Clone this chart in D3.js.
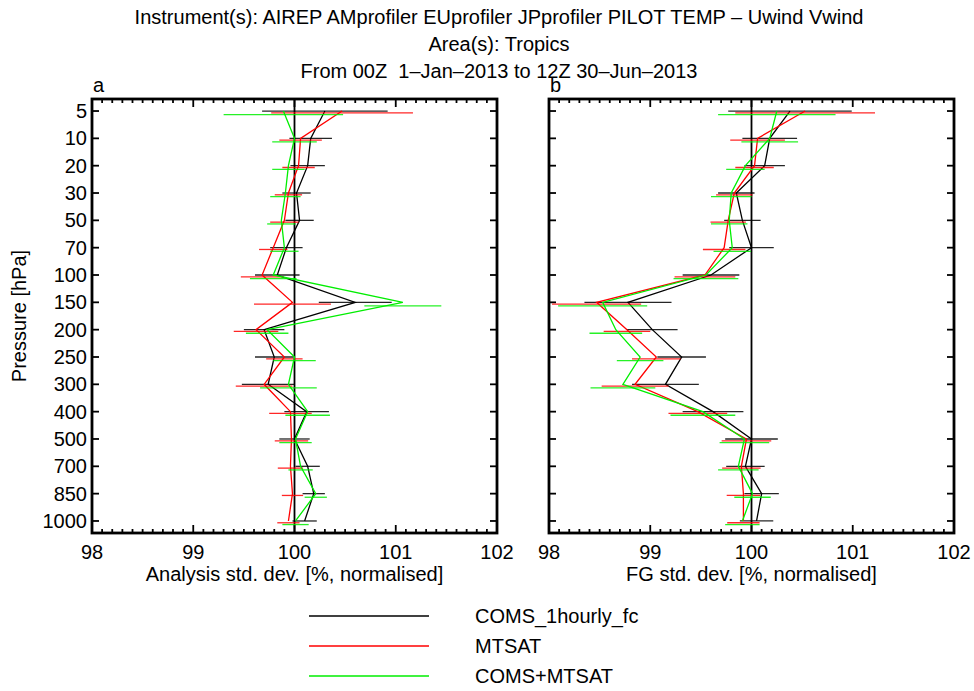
<!DOCTYPE html>
<html>
<head>
<meta charset="utf-8">
<title>Uwind Vwind std. dev. - Tropics</title>
<script src="https://cdn.jsdelivr.net/npm/d3@7/dist/d3.min.js"></script>
<style>
  body { margin: 0; background: #fff; }
  text { font-family: "Liberation Sans", Arial, sans-serif; fill: #000; font-size: 20px; }
</style>
</head>
<body>
<svg id="chart" width="974" height="691"></svg>
<script>
// pressure levels (hPa), top to bottom
var levels = [5, 10, 20, 30, 50, 70, 100, 150, 200, 250, 300, 400, 500, 700, 850, 1000];
var xTicks = [98, 99, 100, 101, 102];
var seriesNames = ["COMS_1hourly_fc", "MTSAT", "COMS+MTSAT"];
var seriesColors = ["#000000", "#ff0000", "#00ee00"];

// panel a: analysis std. dev. [%], and error-bar half widths
var anaComs  = [100.30, 100.16, 100.13, 100.02, 100.05, 99.92, 99.83, 100.60, 99.70, 99.80, 99.74, 100.12, 100.00, 100.13, 100.19, 100.10];
var anaComsE = [0.62, 0.21, 0.17, 0.14, 0.14, 0.16, 0.22, 0.36, 0.20, 0.19, 0.26, 0.22, 0.15, 0.12, 0.11, 0.12];
var anaMts   = [100.47, 100.06, 100.04, 99.94, 99.90, 99.79, 99.68, 99.98, 99.62, 99.90, 99.70, 99.96, 99.97, 99.96, 99.98, 99.94];
var anaMtsE  = [0.70, 0.21, 0.16, 0.135, 0.14, 0.14, 0.21, 0.38, 0.22, 0.18, 0.28, 0.21, 0.165, 0.125, 0.105, 0.11];
var anaBoth  = [99.89, 100.00, 99.94, 99.91, 99.87, 99.90, 99.79, 101.07, 99.73, 100.00, 99.94, 100.13, 100.01, 100.06, 100.21, 100.01];
var anaBothE = [0.59, 0.22, 0.16, 0.15, 0.14, 0.14, 0.23, 0.38, 0.21, 0.21, 0.28, 0.22, 0.16, 0.12, 0.11, 0.13];

// panel b: first-guess std. dev. [%], and error-bar half widths
var fgComs   = [100.38, 100.18, 100.13, 99.85, 99.91, 100.00, 99.60, 98.78, 99.02, 99.31, 99.15, 99.62, 100.00, 99.94, 100.10, 100.05];
var fgComsE  = [0.61, 0.27, 0.20, 0.18, 0.18, 0.22, 0.28, 0.43, 0.25, 0.24, 0.33, 0.30, 0.26, 0.19, 0.17, 0.165];
var fgMts    = [100.53, 100.06, 100.03, 99.83, 99.77, 99.73, 99.54, 98.47, 98.77, 99.06, 98.85, 99.47, 99.95, 99.90, 99.92, 99.92];
var fgMtsE   = [0.69, 0.27, 0.19, 0.18, 0.175, 0.21, 0.30, 0.44, 0.23, 0.24, 0.33, 0.29, 0.245, 0.19, 0.165, 0.16];
var fgBoth   = [100.25, 100.18, 99.94, 99.80, 99.78, 99.81, 99.55, 98.53, 98.66, 98.90, 98.73, 99.52, 99.93, 99.87, 100.01, 99.91];
var fgBothE  = [0.58, 0.28, 0.19, 0.20, 0.18, 0.185, 0.32, 0.44, 0.26, 0.23, 0.32, 0.32, 0.245, 0.20, 0.18, 0.17];

var panels = [
  { letter: "a", left: 92,  xlabel: "Analysis std. dev. [%, normalised]",
    vals: [anaComs, anaMts, anaBoth], errs: [anaComsE, anaMtsE, anaBothE] },
  { letter: "b", left: 549, xlabel: "FG std. dev. [%, normalised]",
    vals: [fgComs, fgMts, fgBoth], errs: [fgComsE, fgMtsE, fgBothE] }
];

var svg = d3.select("#chart");
var pw = 405, plotTop = 99, plotBottom = 533;

// titles
var titles = ["Instrument(s): AIREP AMprofiler EUprofiler JPprofiler PILOT TEMP \u2013 Uwind Vwind",
              "Area(s): Tropics",
              "From 00Z  1\u2013Jan\u20132013 to 12Z 30\u2013Jun\u20132013"];
svg.selectAll("text.title").data(titles).enter().append("text")
  .attr("class", "title")
  .attr("x", 499).attr("y", function(d, i) { return 24 + i * 27; })
  .attr("text-anchor", "middle")
  .style("white-space", "pre")
  .text(function(d) { return d; });

var y = d3.scalePoint().domain(levels).range([plotTop, plotBottom]).padding(0.44);

panels.forEach(function(p, pi) {
  var x = d3.scaleLinear().domain([98, 102]).range([p.left, p.left + pw]);
  var g = svg.append("g");

  // minor ticks on top/bottom every 0.1
  var minor = d3.range(980, 1021).map(function(v) { return v / 10; });
  g.selectAll("line.mt").data(minor).enter().append("line")
    .attr("x1", function(d) { return x(d); }).attr("x2", function(d) { return x(d); })
    .attr("y1", plotTop).attr("y2", function(d) { return Number.isInteger(d) ? plotTop + 8 : plotTop + 4; })
    .attr("stroke", "#000").attr("stroke-width", 1.8);
  g.selectAll("line.mb").data(minor).enter().append("line")
    .attr("x1", function(d) { return x(d); }).attr("x2", function(d) { return x(d); })
    .attr("y1", plotBottom).attr("y2", function(d) { return Number.isInteger(d) ? plotBottom - 8 : plotBottom - 4; })
    .attr("stroke", "#000").attr("stroke-width", 1.8);

  // y ticks left and right, inside
  g.selectAll("line.yl").data(levels).enter().append("line")
    .attr("x1", x(98)).attr("x2", x(98) + 7)
    .attr("y1", function(d) { return y(d); }).attr("y2", function(d) { return y(d); })
    .attr("stroke", "#000").attr("stroke-width", 1.8);
  g.selectAll("line.yr").data(levels).enter().append("line")
    .attr("x1", x(102)).attr("x2", x(102) - 7)
    .attr("y1", function(d) { return y(d); }).attr("y2", function(d) { return y(d); })
    .attr("stroke", "#000").attr("stroke-width", 1.8);

  // frame
  g.append("rect").attr("x", x(98)).attr("y", plotTop)
    .attr("width", pw).attr("height", plotBottom - plotTop)
    .attr("fill", "none").attr("stroke", "#000").attr("stroke-width", 2.8);

  // reference line at 100
  g.append("line").attr("x1", x(100)).attr("x2", x(100))
    .attr("y1", plotTop).attr("y2", plotBottom)
    .attr("stroke", "#000").attr("stroke-width", 1.8);

  // x tick labels
  g.selectAll("text.xt").data(xTicks).enter().append("text")
    .attr("x", function(d) { return x(d); }).attr("y", 559)
    .attr("text-anchor", "middle")
    .text(function(d) { return d; });

  g.append("text").attr("x", x(100)).attr("y", 581)
    .attr("text-anchor", "middle")
    .text(p.xlabel);

  g.append("text").attr("x", x(98) + 1).attr("y", 92)
    .text(p.letter);

  if (pi === 0) {
    g.selectAll("text.yt").data(levels).enter().append("text")
      .attr("x", x(98) - 5).attr("y", function(d) { return y(d) + 7; })
      .attr("text-anchor", "end")
      .text(function(d) { return d; });
    g.append("text").attr("transform", "translate(26," + ((plotTop + plotBottom) / 2) + ") rotate(-90)")
      .attr("text-anchor", "middle")
      .text("Pressure [hPa]");
  }

  var clip = "clip" + pi;
  svg.append("clipPath").attr("id", clip).append("rect")
    .attr("x", x(98)).attr("y", plotTop).attr("width", pw).attr("height", plotBottom - plotTop);
  var data = g.append("g").attr("clip-path", "url(#" + clip + ")");

  var line = d3.line().x(function(d) { return x(d[0]); }).y(function(d) { return y(d[1]); });

  p.vals.forEach(function(vals, si) {
    var off = si * 1.8;
    var pts = vals.map(function(v, i) { return [v, levels[i]]; });
    data.append("path").datum(pts)
      .attr("d", line).attr("fill", "none")
      .attr("stroke", seriesColors[si]).attr("stroke-width", 1.3);
    data.selectAll("line.err" + si).data(vals).enter().append("line")
      .attr("x1", function(d, i) { return x(d - p.errs[si][i]); })
      .attr("x2", function(d, i) { return x(d + p.errs[si][i]); })
      .attr("y1", function(d, i) { return y(levels[i]) + off; })
      .attr("y2", function(d, i) { return y(levels[i]) + off; })
      .attr("stroke", seriesColors[si]).attr("stroke-width", 1.3)
      .attr("stroke-opacity", 0.85);
  });
});

// legend
var leg = svg.append("g");
seriesNames.forEach(function(n, i) {
  var ly = 616 + i * 30;
  leg.append("line").attr("x1", 309).attr("x2", 429).attr("y1", ly).attr("y2", ly)
    .attr("stroke", seriesColors[i]).attr("stroke-width", 1.4);
  leg.append("text").attr("x", 475).attr("y", ly + 7).text(n);
});
</script>
</body>
</html>
